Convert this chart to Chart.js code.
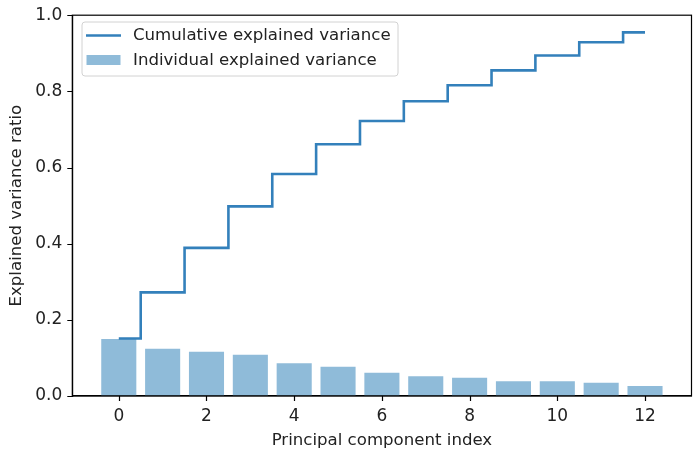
<!DOCTYPE html>
<html>
<head>
<meta charset="utf-8">
<script src="https://cdn.jsdelivr.net/npm/chart.js@4.4.1/dist/chart.umd.min.js"></script>
<style>
  html, body { margin: 0; padding: 0; background: #ffffff; }
  #wrap { width: 700px; height: 453px; position: relative; }
</style>
</head>
<body>
<div id="wrap"><canvas id="c" width="700" height="453"></canvas></div>
<script>
// ---- data ----
const components = [0, 1, 2, 3, 4, 5, 6, 7, 8, 9, 10, 11, 12];
const individualVariance = [0.150, 0.124, 0.116, 0.108, 0.086, 0.077, 0.061, 0.052, 0.048, 0.039, 0.039, 0.035, 0.026];
const cumulativeVariance = [0.151, 0.272, 0.389, 0.498, 0.583, 0.661, 0.722, 0.774, 0.816, 0.855, 0.894, 0.929, 0.955];
const xTickValues = [0, 2, 4, 6, 8, 10, 12];
const yTickValues = [0.0, 0.2, 0.4, 0.6, 0.8, 1.0];
const seriesLabels = ['Cumulative explained variance', 'Individual explained variance'];
const axisTitles = { x: 'Principal component index', y: 'Explained variance ratio' };

const FONT = '"DejaVu Sans", "Liberation Sans", sans-serif';
const TEXT = '#222222';
const LINE_COLOR = '#3380bb';
const BAR_COLOR = '#8fbbd9';
const TICK_LEN = 5;

const framePlugin = {
  id: 'frame',
  afterDraw(chart) {
    const { ctx, chartArea: a, scales } = chart;
    ctx.save();
    ctx.strokeStyle = '#000';
    ctx.lineWidth = 1.2;
    ctx.strokeRect(a.left, a.top, a.right - a.left, a.bottom - a.top);
    // tick marks placed by the library's scales
    ctx.lineWidth = 1.2;
    ctx.beginPath();
    scales.x.ticks.forEach(t => {
      const px = Math.round(scales.x.getPixelForValue(t.value)) + 0.5;
      ctx.moveTo(px, a.bottom);
      ctx.lineTo(px, a.bottom + TICK_LEN);
    });
    scales.y.ticks.forEach(t => {
      const py = Math.round(scales.y.getPixelForValue(t.value)) + 0.5;
      ctx.moveTo(a.left, py);
      ctx.lineTo(a.left - TICK_LEN, py);
    });
    ctx.stroke();
    ctx.restore();
  }
};

const legendPlugin = {
  id: 'boxLegend',
  afterDraw(chart) {
    const { ctx } = chart;
    const x0 = 82, y0 = 22, w = 316, h = 54;
    ctx.save();
    ctx.beginPath();
    ctx.roundRect(x0, y0, w, h, 3);
    ctx.fillStyle = 'rgba(255,255,255,0.8)';
    ctx.fill();
    ctx.strokeStyle = '#d2d2d2';
    ctx.lineWidth = 1;
    ctx.stroke();
    const ds = chart.data.datasets;
    ctx.strokeStyle = ds[0].borderColor;
    ctx.lineWidth = ds[0].borderWidth;
    ctx.beginPath();
    ctx.moveTo(86, 35.5);
    ctx.lineTo(121, 35.5);
    ctx.stroke();
    ctx.fillStyle = ds[1].backgroundColor;
    ctx.fillRect(86.5, 55, 34, 10);
    ctx.fillStyle = TEXT;
    ctx.font = '16.6px ' + FONT;
    ctx.textBaseline = 'middle';
    ctx.textAlign = 'left';
    ctx.fillText(ds[0].label, 133, 36);
    ctx.fillText(ds[1].label, 133, 61);
    ctx.restore();
  }
};

new Chart(document.getElementById('c'), {
  data: {
    datasets: [
      {
        type: 'line',
        label: seriesLabels[0],
        data: components.map((c, i) => ({ x: c, y: cumulativeVariance[i] })),
        stepped: 'middle',
        borderColor: LINE_COLOR,
        borderWidth: 2.6,
        pointRadius: 0,
        fill: false,
        order: 0
      },
      {
        type: 'bar',
        label: seriesLabels[1],
        data: components.map((c, i) => ({ x: c, y: individualVariance[i] })),
        backgroundColor: BAR_COLOR,
        borderWidth: 0,
        barPercentage: 0.8,
        categoryPercentage: 1.0,
        order: 1
      }
    ]
  },
  options: {
    responsive: false,
    animation: false,
    devicePixelRatio: 1,
    layout: { padding: { top: 13, right: 8.5, left: 0, bottom: 0 } },
    plugins: {
      legend: { display: false },
      tooltip: { enabled: false }
    },
    scales: {
      x: {
        type: 'linear',
        min: -1.06,
        max: 13.06,
        offset: false,
        afterBuildTicks(scale) { scale.ticks = xTickValues.map(v => ({ value: v })); },
        afterFit(scale) { scale.height = 57; },
        ticks: {
          color: TEXT,
          font: { family: FONT, size: 17 },
          padding: 5,
          maxRotation: 0,
          callback: v => String(v)
        },
        grid: { offset: false, drawOnChartArea: false, drawTicks: true, tickLength: TICK_LEN, color: 'rgba(0,0,0,0)' },
        border: { display: true, color: '#000', width: 1.2 },
        title: {
          display: true,
          text: axisTitles.x,
          color: TEXT,
          font: { family: FONT, size: 16.6 },
          padding: { top: 0, bottom: 2 }
        }
      },
      y: {
        type: 'linear',
        min: 0,
        max: 1,
        afterBuildTicks(scale) { scale.ticks = yTickValues.map(v => ({ value: v })); },
        afterFit(scale) { scale.width = 72.3; },
        ticks: {
          color: TEXT,
          font: { family: FONT, size: 17 },
          padding: 5,
          callback: v => Number(v).toFixed(1)
        },
        grid: { drawOnChartArea: false, drawTicks: true, tickLength: TICK_LEN, color: 'rgba(0,0,0,0)' },
        border: { display: true, color: '#000', width: 1.2 },
        title: {
          display: true,
          text: axisTitles.y,
          color: TEXT,
          font: { family: FONT, size: 16.6 },
          padding: { top: 7, bottom: 0 }
        }
      }
    }
  },
  plugins: [framePlugin, legendPlugin]
});
</script>
</body>
</html>
